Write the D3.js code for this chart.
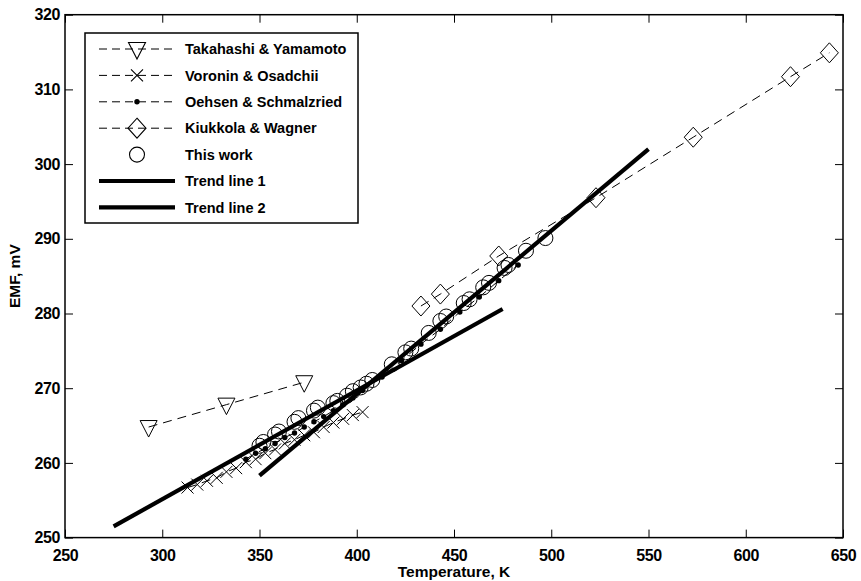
<!DOCTYPE html>
<html>
<head>
<meta charset="utf-8">
<script src="https://cdn.jsdelivr.net/npm/d3@7"></script>
<style>
    body { margin: 0; background: #fff; }
    text { font-family: "Liberation Sans", Arial, Helvetica, sans-serif; font-weight: bold; fill: #000; }
</style>
</head>
<body>
<div id="chart"></div>
<script>
// ---- data (T in K, EMF in mV) ----
const takahashiT = [293, 333, 373];
const takahashiE = [264.8, 267.8, 270.8];

const voroninT = [313, 318, 323, 328, 333, 338, 343, 348, 353, 358, 363, 368, 373, 378, 383, 388, 393, 398, 403];
const voroninE = [256.7, 257.1, 257.6, 258.0, 258.8, 259.3, 260.1, 260.5, 261.3, 261.8, 262.6, 263.1, 263.7, 264.1, 264.8, 265.4, 265.9, 266.4, 266.8];

const oehsenT = [343, 348, 353, 358, 363, 368, 373, 378, 383, 388, 393, 398, 403, 413, 423, 433, 443, 453, 463, 473, 483];
const oehsenE = [260.5, 261.3, 261.9, 262.6, 263.4, 264.0, 264.8, 265.5, 266.2, 267.0, 267.8, 268.7, 269.7, 271.5, 273.7, 275.9, 277.9, 280.2, 282.2, 284.4, 286.5];

const kiukkolaT = [433, 443, 473, 523, 573, 623, 643];
const kiukkolaE = [281.0, 282.6, 287.7, 295.5, 303.6, 311.7, 314.9];

const thisWorkT = [350, 352, 358, 360, 368, 370, 378, 380, 388, 390, 395, 398, 402, 405, 408, 418, 425, 428, 437, 443, 446, 455, 458, 465, 468, 476, 478, 487, 497];
const thisWorkE = [262.3, 262.8, 263.8, 264.2, 265.5, 266.0, 267.0, 267.4, 268.0, 268.3, 269.0, 269.6, 270.1, 270.6, 271.1, 273.2, 274.8, 275.3, 277.4, 279.0, 279.6, 281.4, 281.9, 283.5, 284.1, 286.1, 286.5, 288.4, 290.1];

const trend1T = [275, 475];
const trend1E = [251.5, 280.6];
const trend2T = [350, 550];
const trend2E = [258.3, 302.0];

const xTicks = [250, 300, 350, 400, 450, 500, 550, 600, 650];
const yTicks = [250, 260, 270, 280, 290, 300, 310, 320];

const legendLabels = ["Takahashi & Yamamoto", "Voronin & Osadchii", "Oehsen & Schmalzried",
    "Kiukkola & Wagner", "This work", "Trend line 1", "Trend line 2"];

// marker shapes, centred on the data point
const markers = {
    triangle: "M-8.5,-6.5L8.5,-6.5L0,10Z",
    cross: "M-6,-6L6,6M-6,6L6,-6",
    diamond: "M0,-10L9,0L0,10L-9,0Z"
};

class EmfChart {
    constructor(parentElement) {
        this.parentElement = parentElement;
        this.initVis();
    }

    initVis() {
        let vis = this;

        // margin conventions
        vis.margin = { top: 14.7, right: 18, bottom: 43.4, left: 65 };
        vis.totalWidth = 861;
        vis.totalHeight = 581;
        vis.width = vis.totalWidth - vis.margin.left - vis.margin.right;
        vis.height = vis.totalHeight - vis.margin.top - vis.margin.bottom;

        vis.svgRoot = d3.select("#" + vis.parentElement).append("svg")
            .attr("width", vis.totalWidth)
            .attr("height", vis.totalHeight);

        vis.svg = vis.svgRoot.append("g")
            .attr("transform", `translate(${vis.margin.left}, ${vis.margin.top})`);

        // scales
        vis.x = d3.scaleLinear().domain([250, 650]).range([0, vis.width]);
        vis.y = d3.scaleLinear().domain([250, 320]).range([vis.height, 0]);

        vis.line = d3.line().x(d => vis.x(d.t)).y(d => vis.y(d.e));

        vis.drawAxes();
        vis.drawData();
        vis.drawLegend();
    }

    drawAxes() {
        let vis = this;

        // ticks pointing inward on all four sides
        const tl = 8;
        vis.svg.append("g")
            .attr("transform", `translate(0, ${vis.height})`)
            .call(d3.axisBottom(vis.x).tickValues(xTicks).tickSize(-tl).tickPadding(12).tickFormat(d3.format("d")))
            .call(g => g.select(".domain").remove());
        vis.svg.append("g")
            .call(d3.axisTop(vis.x).tickValues(xTicks).tickSize(-tl).tickFormat(""))
            .call(g => g.select(".domain").remove());
        vis.svg.append("g")
            .call(d3.axisLeft(vis.y).tickValues(yTicks).tickSize(-tl).tickPadding(5).tickFormat(d3.format("d")))
            .call(g => g.select(".domain").remove());
        vis.svg.append("g")
            .attr("transform", `translate(${vis.width}, 0)`)
            .call(d3.axisRight(vis.y).tickValues(yTicks).tickSize(-tl).tickFormat(""))
            .call(g => g.select(".domain").remove());

        vis.svg.selectAll(".tick line").attr("stroke", "#000").attr("stroke-width", 1);
        vis.svg.selectAll(".tick text")
            .style("font-size", "16px")
            .style("font-family", "'Liberation Sans', Arial, sans-serif")
            .style("font-weight", "bold")
            .style("letter-spacing", "-0.4px")
            .attr("fill", "#000");

        // frame
        vis.svg.append("rect")
            .attr("width", vis.width)
            .attr("height", vis.height)
            .attr("fill", "none")
            .attr("stroke", "#000")
            .attr("stroke-width", 1.5);

        // axis titles
        vis.svg.append("text")
            .attr("x", vis.width / 2)
            .attr("y", vis.height + 39)
            .attr("text-anchor", "middle")
            .style("font-size", "15.5px")
            .text("Temperature, K");

        vis.svg.append("text")
            .attr("transform", `translate(${20 - vis.margin.left}, ${vis.height / 2}) rotate(-90)`)
            .attr("text-anchor", "middle")
            .style("font-size", "15.5px")
            .text("EMF, mV");
    }

    drawData() {
        let vis = this;

        const zip = (ts, es) => ts.map((t, i) => ({ t: t, e: es[i] }));

        const series = [
            { data: zip(takahashiT, takahashiE), marker: "triangle" },
            { data: zip(voroninT, voroninE), marker: "cross" },
            { data: zip(oehsenT, oehsenE), marker: "dot" },
            { data: zip(kiukkolaT, kiukkolaE), marker: "diamond" }
        ];

        series.forEach(s => {
            vis.svg.append("path")
                .datum(s.data)
                .attr("d", vis.line)
                .attr("fill", "none")
                .attr("stroke", "#000")
                .attr("stroke-width", 1)
                .attr("stroke-dasharray", "9,6");

            if (s.marker === "dot") {
                vis.svg.selectAll(null)
                    .data(s.data)
                    .enter().append("circle")
                    .attr("cx", d => vis.x(d.t))
                    .attr("cy", d => vis.y(d.e))
                    .attr("r", 2.7)
                    .attr("fill", "#000");
            } else {
                vis.svg.selectAll(null)
                    .data(s.data)
                    .enter().append("path")
                    .attr("transform", d => `translate(${vis.x(d.t)}, ${vis.y(d.e)})`)
                    .attr("d", markers[s.marker])
                    .attr("fill", "none")
                    .attr("stroke", "#000")
                    .attr("stroke-width", 1);
            }
        });

        // this work: open circles only
        vis.svg.selectAll(".this-work")
            .data(zip(thisWorkT, thisWorkE))
            .enter().append("circle")
            .attr("class", "this-work")
            .attr("cx", d => vis.x(d.t))
            .attr("cy", d => vis.y(d.e))
            .attr("r", 7.5)
            .attr("fill", "none")
            .attr("stroke", "#000")
            .attr("stroke-width", 1);

        // trend lines
        [zip(trend1T, trend1E), zip(trend2T, trend2E)].forEach(tr => {
            vis.svg.append("path")
                .datum(tr)
                .attr("d", vis.line)
                .attr("fill", "none")
                .attr("stroke", "#000")
                .attr("stroke-width", 4.2);
        });
    }

    drawLegend() {
        let vis = this;

        // legend is placed in page coordinates
        let lg = vis.svgRoot.append("g").attr("class", "legend");

        lg.append("rect")
            .attr("x", 85)
            .attr("y", 33)
            .attr("width", 273)
            .attr("height", 190)
            .attr("fill", "#fff")
            .attr("stroke", "#000")
            .attr("stroke-width", 1.5);

        const kinds = ["triangle", "cross", "dot", "diamond", "circle", "trend", "trend"];

        legendLabels.forEach((label, i) => {
            let yy = 49 + i * 26.4;
            let row = lg.append("g");
            let k = kinds[i];

            if (k === "trend") {
                row.append("line")
                    .attr("x1", 99).attr("x2", 175)
                    .attr("y1", yy).attr("y2", yy)
                    .attr("stroke", "#000")
                    .attr("stroke-width", 4.2);
            } else if (k !== "circle") {
                row.append("line")
                    .attr("x1", 99).attr("x2", 175)
                    .attr("y1", yy).attr("y2", yy)
                    .attr("stroke", "#000")
                    .attr("stroke-width", 1)
                    .attr("stroke-dasharray", "8,5");
            }

            if (k === "dot") {
                row.append("circle").attr("cx", 137).attr("cy", yy).attr("r", 2.7).attr("fill", "#000");
            } else if (k === "circle") {
                row.append("circle").attr("cx", 137).attr("cy", yy).attr("r", 7.5)
                    .attr("fill", "none").attr("stroke", "#000").attr("stroke-width", 1.1);
            } else if (k !== "trend") {
                row.append("path")
                    .attr("transform", `translate(137, ${yy})`)
                    .attr("d", markers[k])
                    .attr("fill", "none")
                    .attr("stroke", "#000")
                    .attr("stroke-width", 1.1);
            }

            row.append("text")
                .attr("x", 185)
                .attr("y", yy)
                .attr("dy", "0.36em")
                .style("font-size", "14.5px")
                .text(label);
        });
    }
}

new EmfChart("chart");
</script>
</body>
</html>
